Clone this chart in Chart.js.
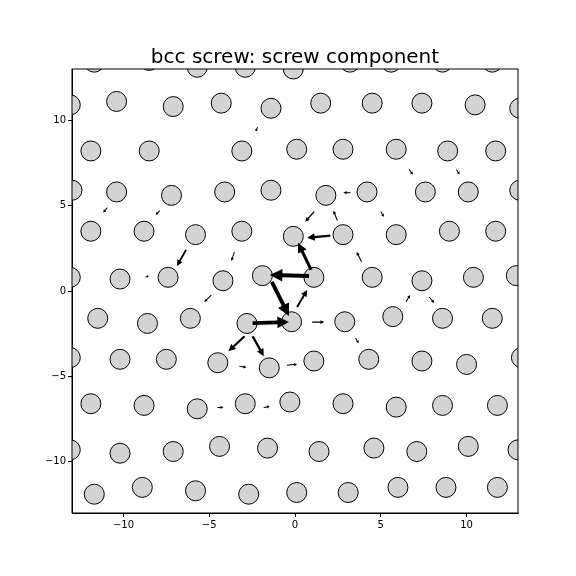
<!DOCTYPE html>
<html>
<head>
<meta charset="utf-8">
<script src="https://cdn.jsdelivr.net/npm/chart.js@4/dist/chart.umd.min.js"></script>
<style>
  body { margin: 0; background: #fff; }
  #wrap { width: 576px; height: 576px; }
</style>
</head>
<body>
<div id="wrap"><canvas id="chart"></canvas></div>
<script>
// atom column positions (x, y), row by row
const atomX = [
  -11.7, -8.5, -5.7, -2.9, -0.1, 3.2, 5.6, 8.6, 11.5,
  -13.1, -10.4, -7.1, -4.3, -1.4, 1.5, 4.5, 7.4, 10.5, 13.1,
  -11.9, -8.5, -3.1, 0.1, 2.8, 5.9, 8.9, 11.7,
  -13.0, -10.4, -7.2, -4.1, -1.4, 1.8, 4.2, 7.6, 10.1, 13.1,
  -11.9, -8.8, -5.8, -3.1, -0.1, 2.8, 5.9, 9.0, 11.7,
  -13.1, -10.2, -7.4, -4.2, -1.9, 1.1, 4.5, 7.4, 10.4, 12.9,
  -11.5, -8.6, -6.1, -2.8, -0.2, 2.9, 5.7, 8.6, 11.5,
  -13.1, -10.2, -7.5, -4.5, -1.5, 1.1, 4.3, 7.4, 10.0, 13.2,
  -11.9, -8.8, -5.7, -2.9, -0.3, 2.8, 5.9, 8.6, 11.8,
  -13.1, -10.2, -7.1, -4.4, -1.6, 1.4, 4.6, 7.1, 10.1, 13.0,
  -11.7, -8.9, -5.8, -2.7, 0.1, 3.1, 6.0, 8.8, 11.8
];
const atomY = [
  13.4, 13.5, 13.1, 13.1, 13.0, 13.4, 13.4, 13.4, 13.4,
  10.9, 11.1, 10.8, 11.0, 10.7, 11.0, 11.0, 11.0, 10.9, 10.7,
  8.2, 8.2, 8.2, 8.3, 8.3, 8.3, 8.2, 8.2,
  5.9, 5.8, 5.6, 5.8, 5.9, 5.6, 5.8, 5.8, 5.8, 5.9,
  3.5, 3.5, 3.3, 3.5, 3.2, 3.3, 3.3, 3.5, 3.5,
  0.8, 0.7, 0.8, 0.6, 0.9, 0.8, 0.8, 0.6, 0.8, 0.9,
  -1.6, -1.9, -1.6, -1.9, -1.8, -1.8, -1.5, -1.6, -1.6,
  -3.9, -4.0, -4.0, -4.2, -4.5, -4.1, -4.0, -4.1, -4.3, -3.9,
  -6.6, -6.7, -6.9, -6.6, -6.5, -6.6, -6.8, -6.7, -6.7,
  -9.3, -9.5, -9.4, -9.1, -9.2, -9.4, -9.2, -9.4, -9.1, -9.3,
  -11.9, -11.5, -11.7, -11.9, -11.8, -11.8, -11.5, -11.5, -11.5
];

// arrows: tail (x0, y0) -> head (x1, y1)
const arrowX0 = [0.82, 0.94, -1.35, -2.47, -2.47, -2.94, 2.06, 0.12, 1.12, 2.47, -6.35, 3.88, -4.88, 1.0, -0.47, -3.24, -3.53, -4.53, -1.82, 3.24, -10.94, -7.88, -2.18, 7.82, 6.47, 3.53, 5.0, 6.65, 9.41, -8.71];
const arrowY0 = [0.88, 1.24, 0.53, -1.88, -2.65, -2.65, 3.24, -0.94, 4.65, 4.12, 2.41, 1.71, -0.24, -1.82, -4.35, -4.41, 2.29, -6.82, -6.82, 5.76, 4.88, 4.71, 9.59, -0.35, -0.65, -2.76, 4.65, 7.12, 7.12, 0.82];
const arrowX1 = [-1.47, 0.18, -0.35, -0.35, -1.82, -3.88, 0.71, 0.71, 0.59, 2.24, -6.88, 3.59, -5.29, 1.71, 0.12, -2.82, -3.71, -4.18, -1.47, 2.82, -11.18, -8.12, -2.29, 8.12, 6.71, 3.71, 5.18, 6.88, 9.59, -8.53];
const arrowY1 = [0.94, 2.82, -1.47, -1.82, -3.82, -3.53, 3.12, 0.06, 4.06, 4.71, 1.47, 2.29, -0.65, -1.82, -4.29, -4.47, 1.76, -6.82, -6.76, 5.76, 4.59, 4.47, 9.35, -0.71, -0.24, -3.06, 4.35, 6.82, 6.82, 0.88];

const tickValues = [-10, -5, 0, 5, 10];
const titleText = "bcc screw: screw component";

const atoms = atomX.map((x, i) => ({ x: x, y: atomY[i] }));

const quiverPlugin = {
  id: "quiver",
  afterDatasetsDraw(chart) {
    const { ctx, scales: { x, y }, chartArea } = chart;
    ctx.save();
    ctx.beginPath();
    ctx.rect(chartArea.left, chartArea.top, chartArea.width, chartArea.height);
    ctx.clip();
    ctx.fillStyle = "#000";
    for (let i = 0; i < arrowX0.length; i++) {
      const px0 = x.getPixelForValue(arrowX0[i]);
      const py0 = y.getPixelForValue(arrowY0[i]);
      const px1 = x.getPixelForValue(arrowX1[i]);
      const py1 = y.getPixelForValue(arrowY1[i]);
      const len = Math.hypot(px1 - px0, py1 - py0);
      const w = Math.min(4.2, Math.max(1, len * 0.1));
      const hl = Math.min(len * 0.45, w * 3.2);
      const hw = w * 1.6;
      const ux = (px1 - px0) / len, uy = (py1 - py0) / len;
      const nx = -uy, ny = ux;
      const bx = px1 - ux * hl, by = py1 - uy * hl;
      ctx.beginPath();
      ctx.moveTo(px0 + nx * w / 2, py0 + ny * w / 2);
      ctx.lineTo(bx + nx * w / 2, by + ny * w / 2);
      ctx.lineTo(bx + nx * hw, by + ny * hw);
      ctx.lineTo(px1, py1);
      ctx.lineTo(bx - nx * hw, by - ny * hw);
      ctx.lineTo(bx - nx * w / 2, by - ny * w / 2);
      ctx.lineTo(px0 - nx * w / 2, py0 - ny * w / 2);
      ctx.closePath();
      ctx.fill();
    }
    ctx.restore();
  },
  afterDraw(chart) {
    const { ctx, chartArea } = chart;
    ctx.save();
    ctx.strokeStyle = "#000";
    ctx.lineWidth = 1;
    ctx.strokeRect(chartArea.left, chartArea.top, chartArea.width, chartArea.height);
    ctx.fillStyle = "#000";
    ctx.font = "20px 'DejaVu Sans'";
    ctx.textAlign = "center";
    ctx.textBaseline = "alphabetic";
    ctx.fillText(titleText, (chartArea.left + chartArea.right) / 2, 63);
    ctx.restore();
  }
};

function axisOpts(isX) {
  return {
    type: "linear",
    min: -13,
    max: 13,
    afterBuildTicks: (axis) => { axis.ticks = tickValues.map(v => ({ value: v })); },
    afterFit: (axis) => { if (isX) axis.height = 63; else axis.width = 72; },
    ticks: {
      color: "#000",
      font: { family: "DejaVu Sans", size: 10 },
      padding: 2,
      callback: (v) => String(v).replace("-", "\u2212")
    },
    grid: { drawOnChartArea: false, drawTicks: true, tickLength: 4, color: "#000" },
    border: { color: "#000" }
  };
}

new Chart(document.getElementById("chart"), {
  type: "scatter",
  data: {
    datasets: [{
      data: atoms,
      pointRadius: 10,
      pointHoverRadius: 10,
      backgroundColor: "#d3d3d3",
      borderColor: "#000",
      borderWidth: 1,
      clip: 0
    }]
  },
  options: {
    responsive: true,
    maintainAspectRatio: false,
    animation: false,
    layout: { padding: { left: 0, right: 58, top: 69, bottom: 0 } },
    plugins: { legend: { display: false }, tooltip: { enabled: false } },
    scales: { x: axisOpts(true), y: axisOpts(false) }
  },
  plugins: [quiverPlugin]
});
</script>
</body>
</html>
